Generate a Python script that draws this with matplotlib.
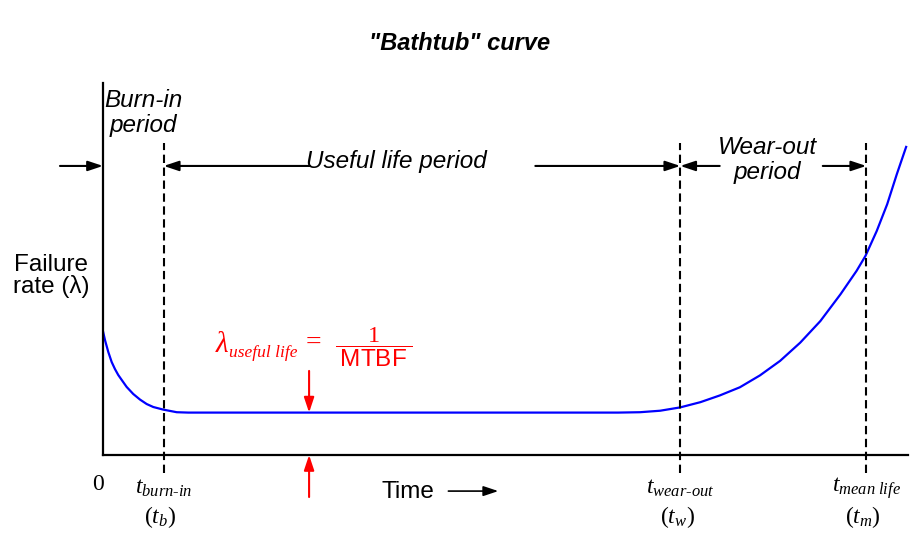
import matplotlib.pyplot as plt

plt.rcParams['font.family'] = ['Liberation Sans', 'DejaVu Sans']
plt.rcParams['mathtext.fontset'] = 'custom'
plt.rcParams['mathtext.rm'] = 'Liberation Serif'
plt.rcParams['mathtext.it'] = 'Liberation Serif:italic'
plt.rcParams['mathtext.sf'] = 'Liberation Sans'

# failure rate curve (time 0..100, rate 0..100)
time = [0.0, 0.25, 0.66, 1.08, 1.49, 1.90, 2.32, 2.94, 3.76, 4.60,
        5.43, 6.25, 7.49, 9.16, 10.6,
        64.0, 66.7, 69.2, 71.7, 74.2, 76.6, 79.1, 81.6, 84.1, 86.6,
        89.1, 91.6, 93.6, 94.7, 96.1, 97.4, 98.6, 99.8]
rate = [33.3, 30.9, 27.7, 25.0, 23.1, 21.5, 20.2, 18.3, 16.4, 14.9,
        13.7, 12.9, 12.2, 11.5, 11.4,
        11.4, 11.5, 11.9, 12.8, 14.2, 16.0, 18.2, 21.4, 25.3, 30.2,
        36.0, 43.2, 49.5, 53.5, 60.2, 67.4, 75.5, 83.1]

# phase boundaries
t_burn_in = 7.55
t_wear_out = 71.7
t_mean_life = 94.8
useful_rate = 11.4

boundary_labels = [r'$t_{burn\text{-}in}$', r'$t_{wear\text{-}out}$', r'$t_{mean\ life}$']
short_labels = [r'$(t_b)$', r'$(t_w)$', r'$(t_m)$']

fig = plt.figure(figsize=(9.21, 5.6), dpi=100)
ax = fig.add_axes([0.1118, 0.1875, 0.8742, 0.6643])
ax.set_xlim(0, 100)
ax.set_ylim(0, 100)
for s in ['top', 'right']:
    ax.spines[s].set_visible(False)
for s in ['left', 'bottom']:
    ax.spines[s].set_linewidth(1.6)
ax.set_xticks([])
ax.set_yticks([])

ax.plot(time, rate, color='#0000ff', lw=1.6, solid_capstyle='butt',
        solid_joinstyle='round')

bounds = [t_burn_in, t_wear_out, t_mean_life]
for t in bounds:
    ax.plot([t, t], [-4.8, 83.9], color='k', lw=1.5, dashes=(4, 2.2), clip_on=False)

for t, lab, sl in zip(bounds, boundary_labels, short_labels):
    ax.text(t, -9.0, lab, ha='center', va='center', fontsize=17)
    ax.text(t - 0.4, -16.8, sl, ha='center', va='center', fontsize=17)
ax.text(-0.6, -7.8, r'$\mathrm{0}$', ha='center', va='center', fontsize=17)

arrow_y = 77.7
head = '-|>,head_length=0.6,head_width=0.2'
def arrow(x0, x1, y0, y1, color='k', lw=1.5):
    ax.annotate('', xy=(x1, y1), xytext=(x0, y0), annotation_clip=False,
                arrowprops=dict(arrowstyle=head, mutation_scale=15, lw=lw,
                                color=color, shrinkA=0, shrinkB=0))

arrow(-5.34, 0, arrow_y, arrow_y)
arrow(25.7, t_burn_in, arrow_y, arrow_y)
arrow(53.7, t_wear_out, arrow_y, arrow_y)
arrow(76.6, t_wear_out, arrow_y, arrow_y)
arrow(89.4, t_mean_life, arrow_y, arrow_y)

ax.text(4.97, 91.9, 'Burn-in\nperiod', ha='center', va='center', style='italic',
        fontsize=17.5, linespacing=1.1)
ax.text(36.4, 78.8, 'Useful life period', ha='center', va='center', style='italic',
        fontsize=17.5)
ax.text(82.5, 79.3, 'Wear-out\nperiod', ha='center', va='center', style='italic',
        fontsize=17.5, linespacing=1.08)
ax.text(-6.46, 48.1, 'Failure\nrate (\u03bb)', ha='center', va='center',
        fontsize=17.5, linespacing=0.95, multialignment='center')

# Time axis label
ax.text(37.9, -9.9, 'Time', ha='center', va='center', fontsize=17.5)
arrow(42.9, 49.1, -9.7, -9.7, lw=1.2)

# useful life rate marker
x_mark = 25.6
arrow(x_mark, x_mark, 22.6, useful_rate, color='red')
arrow(x_mark, x_mark, -11.3, 0, color='red')
serif_it = dict(family='Liberation Serif', style='italic', color='red')
ax.text(14.0, 27.7, '\u03bb', ha='left', va='baseline', fontsize=21, **serif_it)
ax.text(15.7, 26.3, 'useful life', ha='left', va='baseline', fontsize=12.5, **serif_it)
ax.text(26.1, 28.2, '=', ha='center', va='baseline', fontsize=20,
        family='Liberation Serif', color='red')
ax.text(33.6, 28.9, r'$\dfrac{1}{\;\mathsf{MTBF}\;}$', ha='center', va='center',
        color='red', fontsize=17.5)

fig.text(460 / 921, 1 - 43 / 560, '"Bathtub" curve', ha='center', va='center',
         fontsize=17, fontweight='bold', style='italic')

fig.savefig('out.png', dpi=100)
